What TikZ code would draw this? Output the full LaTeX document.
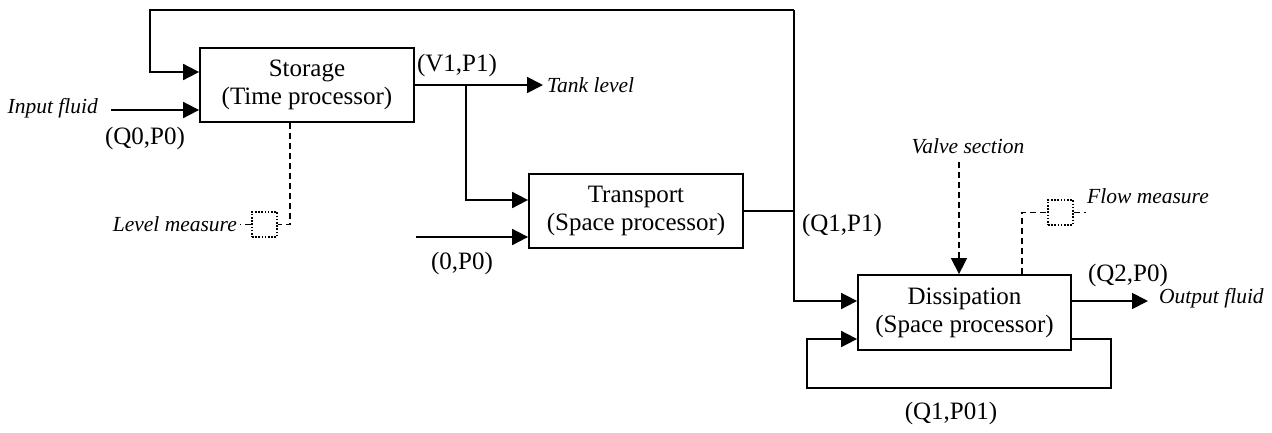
\documentclass[tikz,border=0pt]{standalone}
\usepackage{fontspec}
\setmainfont{Liberation Serif}
\usetikzlibrary{arrows.meta,calc}
\begin{document}
\begin{tikzpicture}[x=1pt,y=-1pt,
  box/.style={draw,line width=1.8pt,minimum width=214pt,minimum height=74pt,align=center,inner sep=0pt,font=\fontsize{25}{28}\selectfont},
  lbl/.style={font=\fontsize{25}{28}\selectfont,inner sep=0pt},
  ilbl/.style={font=\fontsize{21.5}{24}\selectfont\itshape,inner sep=0pt},
  ln/.style={line width=1.8pt},
  tip/.style={-{Triangle[length=16pt,width=16pt]}},
  arr/.style={ln,tip},
  dsh/.style={line width=1.5pt,dash pattern=on 6pt off 4pt},
  sensor/.style={draw,line width=1.6pt,dash pattern=on 1.6pt off 1.6pt,minimum size=25pt,inner sep=0pt}]
\useasboundingbox (0,0) rectangle (1272,432);
\node[box] (S) at (307,85) {Storage\\(Time processor)};
\node[box] (T) at (636,211) {Transport\\(Space processor)};
\node[box,minimum width=213pt,minimum height=75pt] (D) at (964.5,312.5) {Dissipation\\(Space processor)};
\node[sensor] (LM) at (264.5,224.5) {};
\node[sensor] (FM) at (1060.5,212.5) {};
\node[ilbl,anchor=east] (inlbl) at (98,108) {Input fluid};
\node[lbl] (q0) at (145,138) {(Q0,P0)};
\node[lbl] (v1) at (457,65) {(V1,P1)};
\node[ilbl,anchor=west] (tank) at (547,85) {Tank level};
\node[ilbl,anchor=east] (lvl) at (237,224) {Level measure};
\node[lbl] (zp) at (462,263) {(0,P0)};
\node[lbl] (q1) at (842,225) {(Q1,P1)};
\node[ilbl] (valve) at (968,146) {Valve section};
\node[ilbl,anchor=west] (flow) at (1087,196) {Flow measure};
\node[lbl] (q2) at (1128,275) {(Q2,P0)};
\node[ilbl,anchor=west] (out) at (1159,298) {Output fluid};
\node[lbl] (q101) at (951,413) {(Q1,P01)};
\coordinate (topL) at (150,10);
\coordinate (topR) at (794,10);
\coordinate (J) at (794,212);
\coordinate (inS) at (111,110);
\coordinate (brS) at (466,85);
\coordinate (tankE) at (543,85);
\coordinate (inT) at (416,237);
\coordinate (outE) at (1148,301);
\coordinate (fbR) at (1111,388);
\coordinate (fbL) at (807,388);
\coordinate (valveS) at (959,162);
\coordinate (lmC) at (290,224.5);
\coordinate (fmC) at (1022,212.5);
\coordinate (lmE) at (240,224.5);
\coordinate (fmE) at (1086,212.5);
\draw[arr] (topR) -- (topL) |- ([yshift=13pt]S.west);
\draw[arr] (inS) -- ([yshift=-25pt]S.west);
\draw[arr] (S.east) -- (tankE);
\draw[arr] (brS) |- ([yshift=11pt]T.west);
\draw[arr] (inT) -- ([yshift=-26pt]T.west);
\draw[ln] (T.east) -- (T.east -| J);
\draw[arr] (topR) |- ([yshift=11.5pt]D.west);
\draw[arr] ([yshift=11.5pt]D.east) -- (outE);
\draw[arr] ([yshift=-26.5pt]D.east) -| (fbR) -- (fbL) |- ([yshift=-26.5pt]D.west);
\draw[dsh,tip] (valveS) -- (D.north -| valveS);
\draw[dsh] (S.south -| lmC) -- (lmC) -- (LM.east);
\draw[dsh] (LM.west) -- (lmE);
\draw[dsh] (D.north -| fmC) -- (fmC) -- (FM.west);
\draw[dsh] (FM.east) -- (fmE);
\end{tikzpicture}
\end{document}
